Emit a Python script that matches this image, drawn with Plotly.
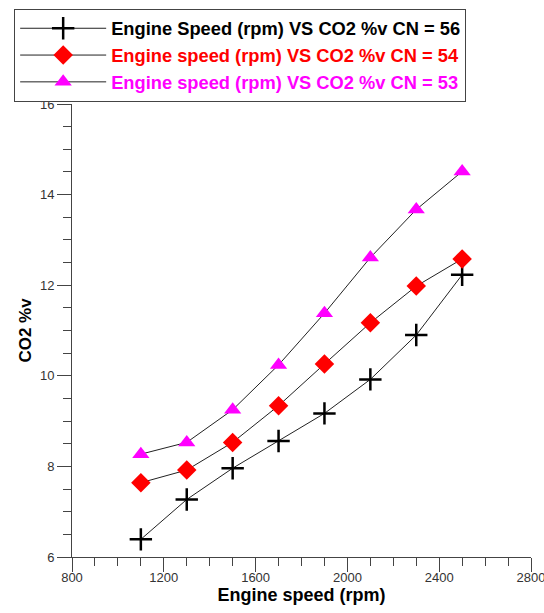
import plotly.graph_objects as go

speed = [1100, 1300, 1500, 1700, 1900, 2100, 2300, 2500]
co2_cn56 = [6.39, 7.27, 7.96, 8.56, 9.17, 9.92, 10.90, 12.23]
co2_cn54 = [7.64, 7.92, 8.53, 9.34, 10.26, 11.17, 11.98, 12.58]
co2_cn53 = [8.27, 8.53, 9.25, 10.24, 11.38, 12.61, 13.67, 14.51]

names = [
    "Engine Speed (rpm) VS CO2 %v CN = 56",
    "Engine speed (rpm) VS CO2 %v CN = 54",
    "Engine speed (rpm) VS CO2 %v CN = 53",
]

FONT = "Liberation Sans, Arial, sans-serif"

fig = go.Figure()
fig.add_trace(go.Scatter(
    x=speed, y=co2_cn56, mode="lines+markers",
    name="<b><span style='color:#000000'>" + names[0] + "</span></b>",
    line=dict(color="#222222", width=1),
    marker=dict(symbol="cross-thin", size=16, line=dict(color="#000000", width=2.5), color="#000000"),
))
fig.add_trace(go.Scatter(
    x=speed, y=co2_cn54, mode="lines+markers",
    name="<b><span style='color:#ff0000'>" + names[1] + "</span></b>",
    line=dict(color="#222222", width=1),
    marker=dict(symbol="diamond", size=15, color="#ff0000", line=dict(width=0)),
))
fig.add_trace(go.Scatter(
    x=speed, y=co2_cn53, mode="lines+markers",
    name="<b><span style='color:#ff00ff'>" + names[2] + "</span></b>",
    line=dict(color="#222222", width=1),
    marker=dict(symbol="triangle-up", size=15, color="#ff00ff", line=dict(width=0)),
))

axis_common = dict(
    showline=True, linecolor="#444444", linewidth=1,
    ticks="outside", tickcolor="#444444", tickwidth=1,
    showgrid=False, zeroline=False, automargin=False,
    ticklabeloverflow="allow",
    tickfont=dict(family=FONT, size=13, color="#333333"),
)

fig.update_xaxes(
    range=[800, 2800], dtick=400, tick0=800, ticklen=14,
    ticklabelstandoff=-6,
    minor=dict(dtick=100, ticklen=8, ticks="outside", tickcolor="#444444", showgrid=False),
    title=dict(text="<b>Engine speed (rpm)</b>", font=dict(family=FONT, size=18, color="#000000"), standoff=3),
    **axis_common,
)
fig.update_yaxes(
    range=[6, 16], dtick=2, tick0=6, ticklen=14,
    minor=dict(dtick=0.5, ticklen=8, ticks="outside", tickcolor="#444444", showgrid=False),
    title=dict(text="<b>CO2 %v</b>", font=dict(family=FONT, size=17, color="#000000"), standoff=3),
    **axis_common,
)

fig.update_layout(
    width=544, height=613,
    margin=dict(l=72, r=13, t=104, b=56, autoexpand=False),
    plot_bgcolor="white", paper_bgcolor="white",
    font=dict(family=FONT),
    showlegend=True,
    legend=dict(
        x=-0.126, y=1.21, xanchor="left", yanchor="top",
        bordercolor="#444444", borderwidth=1, bgcolor="white",
        font=dict(family=FONT, size=18.3, color="#000000"),
        itemwidth=86, tracegroupgap=0,
    ),
)

fig.write_html(
    "out.html",
    config={"displayModeBar": False},
    post_script="document.body.style.margin='0px';document.body.style.overflow='hidden';",
)
